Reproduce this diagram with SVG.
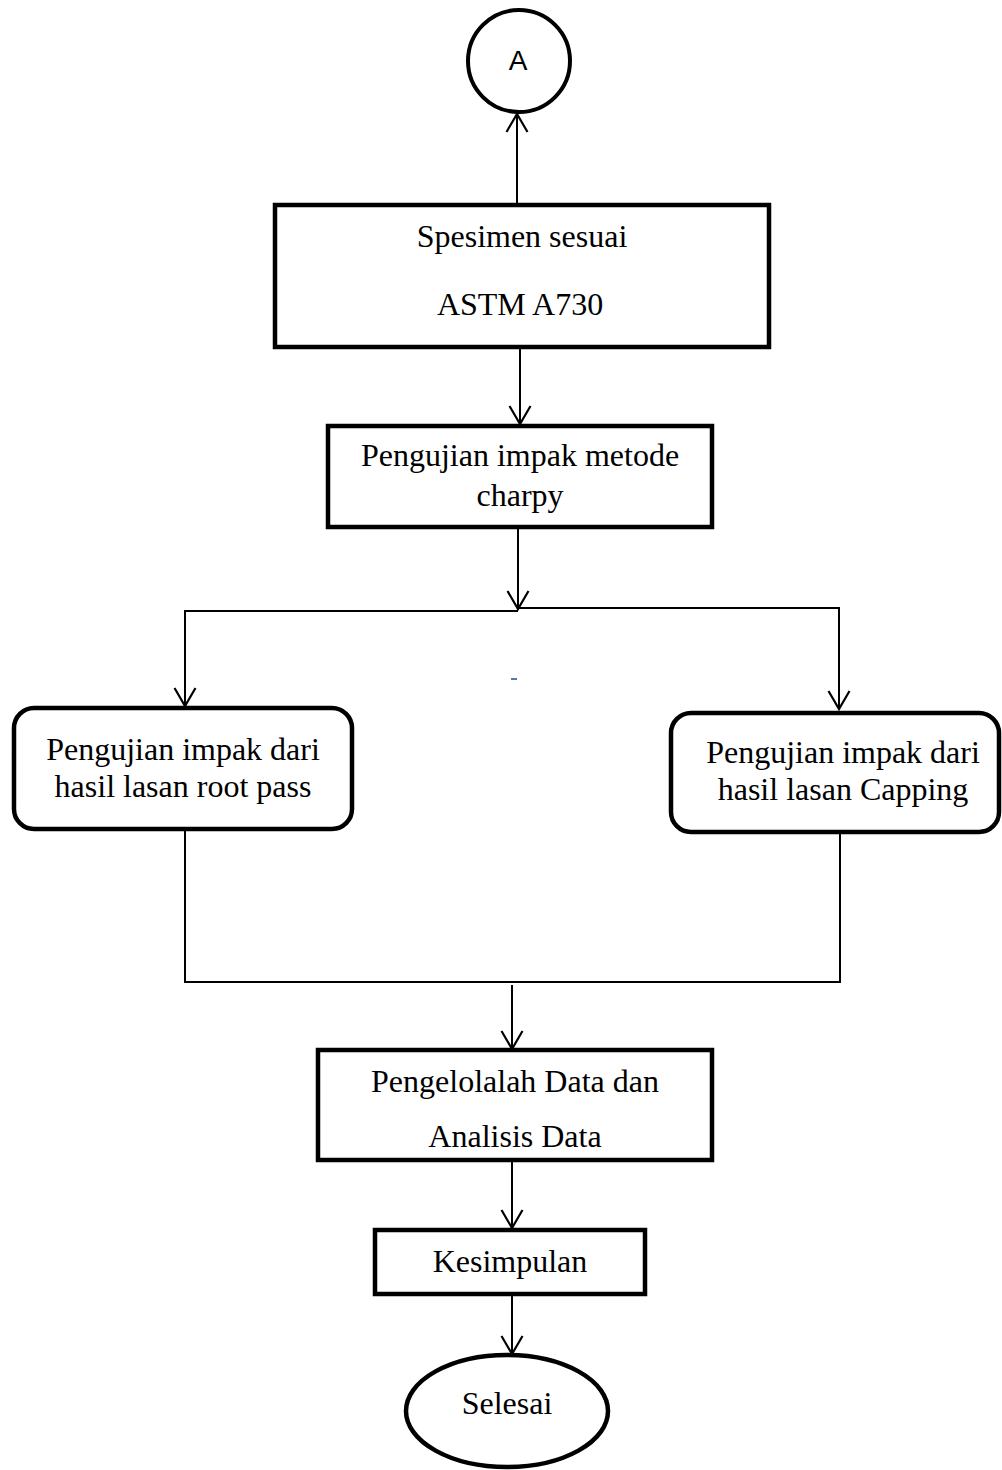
<svg xmlns="http://www.w3.org/2000/svg" width="1002" height="1470" viewBox="0 0 1002 1470">
<style>
.box{fill:#fff;stroke:#000;stroke-width:4.5}
.conn{fill:none;stroke:#000;stroke-width:2}
.t{font-family:"Liberation Serif","Times New Roman",serif;font-size:32px;fill:#000;text-anchor:middle}
.s{font-family:"Liberation Sans",Arial,sans-serif;font-size:28px;fill:#000;text-anchor:middle}
</style>
<defs>
<marker id="arr" markerWidth="24" markerHeight="24" refX="20" refY="12" orient="auto" markerUnits="userSpaceOnUse">
<path d="M2,1.5 L20,12 L2,22.5" fill="none" stroke="#000" stroke-width="2.2"/>
</marker>
</defs>
<rect width="1002" height="1470" fill="#fff"/>
<g id="connectors">
<line class="conn" x1="517" y1="203" x2="517" y2="114" marker-end="url(#arr)"/>
<line class="conn" x1="520" y1="348" x2="520" y2="424" marker-end="url(#arr)"/>
<line class="conn" x1="518" y1="528" x2="518" y2="609" marker-end="url(#arr)"/>
<polyline class="conn" points="185,706 185,611 518,611"/>
<polyline class="conn" points="518,608 839,608 839,709"/>
<line class="conn" x1="185" y1="705" x2="185" y2="706" marker-end="url(#arr)"/>
<line class="conn" x1="839" y1="708" x2="839" y2="709" marker-end="url(#arr)"/>
<polyline class="conn" points="185,829 185,982 840,982 840,832"/>
<line class="conn" x1="512" y1="985" x2="512" y2="1049" marker-end="url(#arr)"/>
<line class="conn" x1="512" y1="1161" x2="512" y2="1228" marker-end="url(#arr)"/>
<line class="conn" x1="512" y1="1295" x2="512" y2="1354" marker-end="url(#arr)"/>
<line x1="511" y1="679" x2="517" y2="679" stroke="#4a7cc0" stroke-width="2"/>
</g>
<g id="nodeA">
<circle cx="519" cy="61" r="51" fill="#fff" stroke="#000" stroke-width="4"/>
<text class="s" x="518" y="70">A</text>
</g>
<g id="spesimen">
<rect class="box" x="275" y="205" width="494" height="142"/>
<text class="t" x="522" y="247">Spesimen sesuai</text>
<text class="t" x="520" y="315">ASTM A730</text>
</g>
<g id="charpy">
<rect class="box" x="328" y="426" width="384" height="101"/>
<text class="t" x="520" y="466">Pengujian impak metode</text>
<text class="t" x="520" y="506">charpy</text>
</g>
<g id="rootpass">
<rect class="box" x="14" y="708" width="338" height="121" rx="20"/>
<text class="t" x="183" y="760">Pengujian impak dari</text>
<text class="t" x="183" y="797">hasil lasan root pass</text>
</g>
<g id="capping">
<rect class="box" x="671" y="713" width="328" height="119" rx="20"/>
<text class="t" x="843" y="763">Pengujian impak dari</text>
<text class="t" x="843" y="800">hasil lasan Capping</text>
</g>
<g id="pengelolalah">
<rect class="box" x="318" y="1050" width="394" height="110"/>
<text class="t" x="515" y="1092">Pengelolalah Data dan</text>
<text class="t" x="515" y="1147">Analisis Data</text>
</g>
<g id="kesimpulan">
<rect class="box" x="375" y="1230" width="270" height="64"/>
<text class="t" x="510" y="1272">Kesimpulan</text>
</g>
<g id="selesai">
<ellipse cx="507" cy="1411" rx="101" ry="56" fill="#fff" stroke="#000" stroke-width="4.5"/>
<text class="t" x="507" y="1414">Selesai</text>
</g>
</svg>
